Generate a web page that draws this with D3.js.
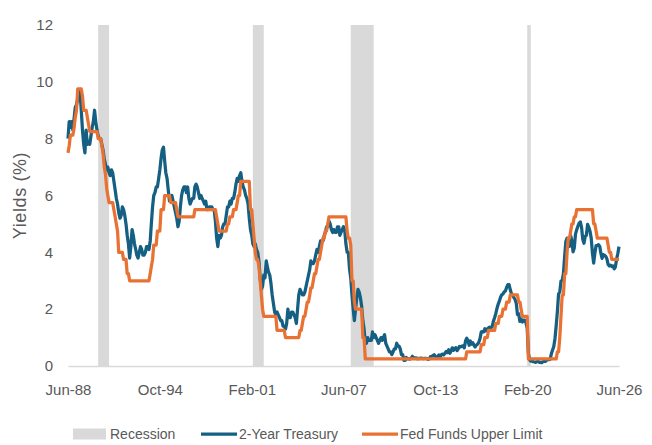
<!DOCTYPE html>
<html lang="en-US">
<head>
    <meta charset="utf-8">
    <title>2-Year Treasury vs Fed Funds</title>
    <style>
        html,
        body {
            margin: 0;
            padding: 0;
            background: #fff;
        }

        svg text {
            font-family: "Liberation Sans", Arial, sans-serif;
            fill: #595959;
        }
    </style>
    <script src="https://d3js.org/d3.v7.min.js"></script>
</head>
<body>
    <div id="chart"></div>

    <script>
        // x axis labels (every 76 months)
        var tickLabels = ["Jun-88", "Oct-94", "Feb-01", "Jun-07", "Oct-13", "Feb-20", "Jun-26"];
        var yTicks = [0, 2, 4, 6, 8, 10, 12];

        // recessions (first / last month)
        var recessionStart = ["1990-07", "2001-03", "2007-12", "2020-02"];
        var recessionEnd = ["1991-03", "2001-11", "2009-06", "2020-04"];

        // 2-year treasury, monthly, starting Jun 1988
        var firstMonth = "1988-06";
        var treasury2y = [
            8.0, 8.6, 8.4, 8.6, 8.3, 8.7, 9.1,
            9.2, 9.4, 9.7, 9.6, 9.0, 8.3, 7.8, 7.5, 8.3, 7.8, 7.9, 7.8,
            8.1, 8.4, 8.6, 9.0, 8.6, 8.3, 8.1, 8.0, 8.0, 7.8, 7.6, 7.3,
            7.1, 6.9, 7.0, 6.8, 6.7, 6.9, 6.8, 6.5, 6.2, 5.9, 5.7, 5.4,
            5.2, 5.3, 5.6, 5.5, 5.3, 5.0, 4.6, 4.3, 3.8, 4.2, 4.8, 4.6,
            4.3, 4.1, 3.9, 3.8, 4.0, 4.2, 4.1, 3.9, 3.9, 4.0, 4.2, 4.2,
            4.1, 4.4, 5.0, 5.6, 6.0, 6.1, 6.3, 6.3, 6.6, 6.9, 7.3, 7.6,
            7.7, 7.2, 6.8, 6.6, 6.2, 5.8, 5.9, 6.0, 5.8, 5.6, 5.4, 5.2,
            4.9, 5.1, 5.6, 6.0, 6.2, 6.3, 6.3, 6.1, 6.3, 5.9, 5.7, 5.8,
            5.9, 5.9, 6.3, 6.4, 6.3, 6.1, 5.9, 6.0, 5.9, 5.8, 5.7, 5.8,
            5.5, 5.5, 5.6, 5.6, 5.6, 5.5, 5.5, 5.1, 4.5, 4.2, 4.6, 4.5,
            4.6, 4.9, 5.0, 5.0, 5.3, 5.6, 5.6, 5.8, 5.7, 5.9, 5.9, 6.1,
            6.4, 6.6, 6.5, 6.7, 6.8, 6.5, 6.3, 6.2, 6.0, 5.9, 5.7, 5.2,
            4.8, 4.6, 4.3, 4.2, 4.3, 4.1, 4.0, 3.7, 3.1, 2.7, 2.8, 3.2,
            3.1, 3.7, 3.5, 3.3, 3.2, 2.9, 2.5, 2.2, 1.9, 1.8, 1.9, 1.8,
            1.7, 1.6, 1.6, 1.4, 1.4, 1.3, 1.5, 2.0, 1.7, 1.7, 1.9, 1.9,
            1.8, 1.7, 1.5, 2.0, 2.5, 2.7, 2.6, 2.5, 2.5, 2.6, 2.8, 3.0,
            3.2, 3.4, 3.7, 3.6, 3.6, 3.7, 3.9, 4.1, 4.0, 4.2, 4.4, 4.4,
            4.4, 4.6, 4.7, 4.9, 4.9, 5.1, 5.0, 4.8, 4.7, 4.8, 4.7, 4.7,
            4.9, 4.9, 4.6, 4.7, 4.8, 4.9, 4.8, 4.3, 4.0, 4.0, 3.4, 3.1,
            2.5, 2.0, 1.6, 2.0, 2.4, 2.7, 2.6, 2.4, 2.1, 1.6, 1.3, 0.8,
            0.8, 1.0, 0.9, 0.9, 0.9, 1.2, 1.0, 1.1, 1.0, 0.9, 0.8, 0.9,
            1.0, 0.9, 1.0, 1.1, 0.8, 0.7, 0.6, 0.5, 0.5, 0.4, 0.5, 0.6,
            0.6, 0.8, 0.7, 0.7, 0.6, 0.4, 0.4, 0.2, 0.2, 0.3, 0.25, 0.26,
            0.24, 0.28, 0.34, 0.29, 0.29, 0.29, 0.25, 0.27, 0.26, 0.28, 0.27, 0.26,
            0.27, 0.27, 0.26, 0.23, 0.25, 0.33, 0.34, 0.36, 0.4, 0.34, 0.3, 0.34,
            0.39, 0.33, 0.4, 0.42, 0.39, 0.45, 0.51, 0.47, 0.57, 0.45, 0.53, 0.64,
            0.55, 0.62, 0.64, 0.54, 0.61, 0.69, 0.67, 0.7, 0.71, 0.64, 0.88, 0.98,
            0.9, 0.73, 0.88, 0.77, 0.82, 0.73, 0.67, 0.74, 0.77, 0.84, 0.98, 1.2,
            1.21, 1.2, 1.31, 1.24, 1.3, 1.34, 1.37, 1.34, 1.38, 1.57, 1.7, 1.84,
            2.03, 2.18, 2.28, 2.42, 2.51, 2.53, 2.61, 2.64, 2.77, 2.86, 2.86, 2.68,
            2.54, 2.5, 2.41, 2.34, 2.21, 1.81, 1.84, 1.57, 1.65, 1.55, 1.61, 1.61,
            1.52, 1.33, 0.45, 0.22, 0.17, 0.19, 0.15, 0.14, 0.13, 0.15, 0.17, 0.13,
            0.13, 0.12, 0.15, 0.16, 0.16, 0.2, 0.22, 0.22, 0.24, 0.43, 0.56, 0.69,
            0.97, 1.44, 1.9, 2.54, 2.6, 2.99, 3.0, 3.25, 3.86, 4.38, 4.5, 4.29,
            4.21, 4.58, 4.41, 4.02, 4.15, 4.64, 4.79, 4.92, 5.03, 5.07, 4.88, 4.46,
            4.32, 4.56, 4.6, 4.98, 4.88, 4.74, 4.5, 3.97, 3.62, 3.97, 4.24, 4.24,
            4.27, 4.21, 3.97, 3.79, 3.92, 3.9, 3.86, 3.77, 3.57, 3.52, 3.55, 3.5,
            3.52, 3.42, 3.48, 3.75, 3.95, 4.2
        ];

        // fed funds target / upper limit: month of change and new rate
        var fedChanges = [
            ["1988-06", 7.5], ["1988-07", 7.75], ["1988-08", 8.125], ["1988-11", 8.375], ["1988-12", 8.75],
            ["1989-01", 9.0], ["1989-02", 9.75], ["1989-06", 9.5], ["1989-07", 9.0], ["1989-10", 8.75],
            ["1989-11", 8.5], ["1989-12", 8.25], ["1990-07", 8.0], ["1990-10", 7.75], ["1990-11", 7.5],
            ["1990-12", 7.0], ["1991-01", 6.75], ["1991-02", 6.25], ["1991-03", 6.0], ["1991-04", 5.75],
            ["1991-08", 5.5], ["1991-09", 5.25], ["1991-10", 5.0], ["1991-11", 4.75], ["1991-12", 4.0],
            ["1992-04", 3.75], ["1992-07", 3.25], ["1992-09", 3.0], ["1994-02", 3.25], ["1994-03", 3.5],
            ["1994-04", 3.75], ["1994-05", 4.25], ["1994-08", 4.75], ["1994-11", 5.5], ["1995-02", 6.0],
            ["1995-07", 5.75], ["1995-12", 5.5], ["1996-01", 5.25], ["1997-03", 5.5], ["1998-09", 5.25],
            ["1998-10", 5.0], ["1998-11", 4.75], ["1999-06", 5.0], ["1999-08", 5.25], ["1999-11", 5.5],
            ["2000-02", 5.75], ["2000-03", 6.0], ["2000-05", 6.5], ["2001-01", 5.5], ["2001-03", 5.0],
            ["2001-04", 4.5], ["2001-05", 4.0], ["2001-06", 3.75], ["2001-08", 3.5], ["2001-09", 3.0],
            ["2001-10", 2.5], ["2001-11", 2.0], ["2001-12", 1.75], ["2002-11", 1.25], ["2003-06", 1.0],
            ["2004-06", 1.25], ["2004-08", 1.5], ["2004-09", 1.75], ["2004-11", 2.0], ["2004-12", 2.25],
            ["2005-02", 2.5], ["2005-03", 2.75], ["2005-05", 3.0], ["2005-06", 3.25], ["2005-08", 3.5],
            ["2005-09", 3.75], ["2005-11", 4.0], ["2005-12", 4.25], ["2006-01", 4.5], ["2006-03", 4.75],
            ["2006-05", 5.0], ["2006-06", 5.25], ["2007-09", 4.75], ["2007-10", 4.5], ["2007-12", 4.25],
            ["2008-01", 3.0], ["2008-03", 2.25], ["2008-04", 2.0], ["2008-10", 1.0], ["2008-12", 0.25],
            ["2015-12", 0.5], ["2016-12", 0.75], ["2017-03", 1.0], ["2017-06", 1.25], ["2017-12", 1.5],
            ["2018-03", 1.75], ["2018-06", 2.0], ["2018-09", 2.25], ["2018-12", 2.5], ["2019-07", 2.25],
            ["2019-09", 2.0], ["2019-10", 1.75], ["2020-03", 0.25], ["2022-03", 0.5], ["2022-05", 1.0],
            ["2022-06", 1.75], ["2022-07", 2.5], ["2022-09", 3.25], ["2022-11", 4.0], ["2022-12", 4.5],
            ["2023-02", 4.75], ["2023-03", 5.0], ["2023-05", 5.25], ["2023-07", 5.5], ["2024-09", 5.0],
            ["2024-11", 4.75], ["2024-12", 4.5], ["2025-09", 4.25], ["2025-10", 4.0], ["2025-12", 3.75]
        ];

        var width = 652,
            height = 445;
        var margin = { top: 25, right: 33, bottom: 79, left: 68 };

        var blue = "#156082",
            orange = "#E97132",
            grey = "#D9D9D9";

        var parseMonth = d3.timeParse("%Y-%m");
        var parseTick = d3.timeParse("%b-%y");

        var svg = d3.select("#chart").append("svg")
            .attr("width", width)
            .attr("height", height);

        var tickDates = tickLabels.map(function(t) {
            return parseTick(t);
        });

        var x = d3.scaleTime()
            .domain([tickDates[0], tickDates[tickDates.length - 1]])
            .range([margin.left, width - margin.right]);

        var y = d3.scaleLinear()
            .domain([0, 12])
            .range([height - margin.bottom, margin.top]);

        // monthly rows for both series
        var start = parseMonth(firstMonth);
        var changeDates = fedChanges.map(function(c) {
            return parseMonth(c[0]);
        });
        var bisect = d3.bisector(function(d) { return d; }).right;

        var rows = treasury2y.map(function(v, i) {
            var date = d3.timeMonth.offset(start, i);
            var k = bisect(changeDates, date) - 1;
            return { date: date, t2y: v, fed: fedChanges[Math.max(k, 0)][1] };
        });

        // recession shading
        svg.append("g")
            .selectAll("rect")
            .data(recessionStart)
            .enter().append("rect")
            .attr("x", function(d) {
                return x(parseMonth(d));
            })
            .attr("y", y(12))
            .attr("width", function(d, i) {
                var end = d3.timeMonth.offset(parseMonth(recessionEnd[i]), 1);
                return Math.max(x(end) - x(parseMonth(d)), 2);
            })
            .attr("height", y(0) - y(12))
            .attr("fill", grey);

        // x axis
        var xAxis = svg.append("g")
            .attr("transform", "translate(0," + y(0) + ")")
            .call(d3.axisBottom(x)
                .tickValues(tickDates)
                .tickFormat(d3.timeFormat("%b-%y"))
                .tickSize(0)
                .tickPadding(18));
        xAxis.select(".domain")
            .attr("stroke", grey)
            .attr("stroke-width", 1.5);
        xAxis.selectAll("text")
            .style("font-size", "15px");

        // y axis
        var yAxis = svg.append("g")
            .attr("transform", "translate(" + margin.left + ",0)")
            .call(d3.axisLeft(y)
                .tickValues(yTicks)
                .tickSize(0)
                .tickPadding(15));
        yAxis.select(".domain").remove();
        yAxis.selectAll("text")
            .style("font-size", "15px");

        svg.append("text")
            .attr("transform", "translate(26," + ((y(0) + y(12)) / 2) + ") rotate(-90)")
            .attr("text-anchor", "middle")
            .style("font-size", "18px")
            .style("letter-spacing", "0.6px")
            .text("Yields (%)");

        // the two lines
        var lineT2y = d3.line()
            .x(function(d) { return x(d.date); })
            .y(function(d) { return y(d.t2y); });

        var lineFed = d3.line()
            .x(function(d) { return x(d.date); })
            .y(function(d) { return y(d.fed); });

        svg.append("path")
            .datum(rows)
            .attr("fill", "none")
            .attr("stroke", blue)
            .attr("stroke-width", 3.25)
            .attr("stroke-linejoin", "round")
            .attr("d", lineT2y);

        svg.append("path")
            .datum(rows)
            .attr("fill", "none")
            .attr("stroke", orange)
            .attr("stroke-width", 3.25)
            .attr("stroke-linejoin", "round")
            .attr("d", lineFed);

        // legend
        var legend = svg.append("g")
            .attr("transform", "translate(0,434)")
            .style("font-size", "14px");

        legend.append("rect")
            .attr("x", 73).attr("y", -5.5)
            .attr("width", 33).attr("height", 11)
            .attr("fill", grey);
        legend.append("text")
            .attr("x", 110).attr("dy", "0.35em")
            .text("Recession");

        legend.append("line")
            .attr("x1", 201).attr("x2", 237)
            .attr("stroke", blue).attr("stroke-width", 3.25);
        legend.append("text")
            .attr("x", 239).attr("dy", "0.35em")
            .text("2-Year Treasury");

        legend.append("line")
            .attr("x1", 362).attr("x2", 398)
            .attr("stroke", orange).attr("stroke-width", 3.25);
        legend.append("text")
            .attr("x", 400).attr("dy", "0.35em")
            .text("Fed Funds Upper Limit");
    </script>
</body>
</html>
